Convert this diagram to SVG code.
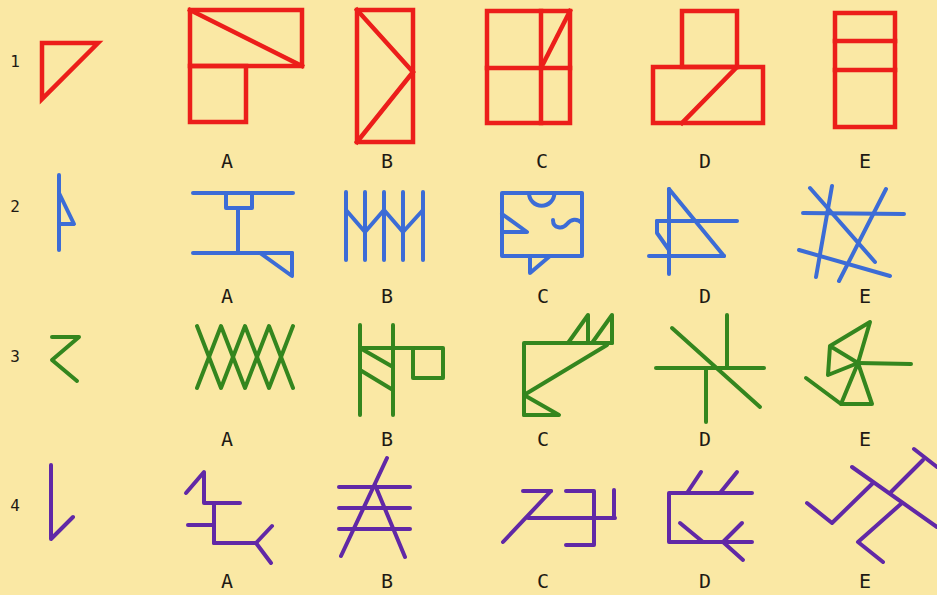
<svg xmlns="http://www.w3.org/2000/svg" width="937" height="595" viewBox="0 0 937 595">
<style>
.r{fill:none;stroke:#EC1E1A;stroke-width:4.5;stroke-linejoin:miter;stroke-linecap:square}
.b{fill:none;stroke:#3C6CD6;stroke-width:4;stroke-linecap:round;stroke-linejoin:round}
.g{fill:none;stroke:#34861E;stroke-width:4;stroke-linecap:round;stroke-linejoin:round}
.p{fill:none;stroke:#6128A6;stroke-width:4;stroke-linecap:round;stroke-linejoin:round}
.lab{font-family:"DejaVu Sans Mono","Liberation Mono",monospace;font-size:20px;fill:#1E1A14;text-anchor:middle}
.num{font-family:"DejaVu Sans Mono","Liberation Mono",monospace;font-size:16px;fill:#1E1A14;text-anchor:middle}
</style>
<rect width="937" height="595" fill="#FAE8A4"/>

<!-- Row 1 -->
<g id="r1-q"><text class="num" x="15" y="67">1</text><polygon class="r" points="42,43 98,43 42,99"/></g>
<g id="r1-A" class="r"><rect x="190" y="10" width="112" height="56"/><rect x="190" y="66" width="56" height="56"/><line x1="190" y1="10" x2="302" y2="66"/></g>
<g id="r1-B" class="r"><rect x="357" y="10" width="56" height="132"/><polyline points="357,10 413,72 357,142"/></g>
<g id="r1-C" class="r"><rect x="487" y="11" width="83" height="112"/><line x1="541" y1="11" x2="541" y2="123"/><line x1="487" y1="68" x2="570" y2="68"/><line x1="541" y1="68" x2="570" y2="11"/></g>
<g id="r1-D" class="r"><rect x="682" y="11" width="55" height="56"/><rect x="653" y="67" width="110" height="56"/><line x1="737" y1="67" x2="682" y2="123"/></g>
<g id="r1-E" class="r"><rect x="835" y="13" width="60" height="114"/><line x1="835" y1="41" x2="895" y2="41"/><line x1="835" y1="70" x2="895" y2="70"/></g>
<g id="r1-labels"><text class="lab" x="227" y="168">A</text><text class="lab" x="387" y="168">B</text><text class="lab" x="542" y="168">C</text><text class="lab" x="705" y="168">D</text><text class="lab" x="865" y="168">E</text></g>

<!-- Row 2 -->
<g id="r2-q"><text class="num" x="15" y="212">2</text><line class="b" x1="59" y1="175" x2="59" y2="250"/><polyline class="b" points="59,193 74,224 59,224"/></g>
<g id="r2-A" class="b"><line x1="193" y1="193" x2="293" y2="193"/><rect x="226" y="193" width="26" height="15"/><line x1="238" y1="208" x2="238" y2="253"/><line x1="193" y1="253" x2="292" y2="253"/><polyline points="260,253 292,276 292,253"/></g>
<g id="r2-B" class="b"><line x1="346" y1="192" x2="346" y2="260"/><line x1="365" y1="192" x2="365" y2="260"/><line x1="384" y1="192" x2="384" y2="260"/><line x1="403" y1="192" x2="403" y2="260"/><line x1="423" y1="192" x2="423" y2="260"/><polyline points="346,210 365,232 384,210 403,232 423,210"/></g>
<g id="r2-C" class="b"><rect x="502" y="193" width="80" height="63"/><path d="M529,193 A12.7,12.7 0 0 0 554.4,193"/><polyline points="502,214 527,232 502,232"/><polyline points="530,256 530,273 550,256"/><path d="M553,220 C553,229 563,229 567,224 S577,218 582,223"/></g>
<g id="r2-D" class="b"><line x1="669" y1="189" x2="669" y2="274"/><line x1="669" y1="189" x2="724" y2="256"/><line x1="649" y1="256" x2="724" y2="256"/><line x1="657" y1="221" x2="737" y2="221"/><polyline points="657,221 657,233 669,250"/></g>
<g id="r2-E" class="b"><line x1="803" y1="213" x2="904" y2="214"/><line x1="810" y1="188" x2="875" y2="262"/><line x1="832" y1="186" x2="816" y2="277"/><line x1="886" y1="189" x2="839" y2="281"/><line x1="799" y1="250" x2="890" y2="276"/></g>
<g id="r2-labels"><text class="lab" x="227" y="303">A</text><text class="lab" x="387" y="303">B</text><text class="lab" x="543" y="303">C</text><text class="lab" x="705" y="303">D</text><text class="lab" x="865" y="303">E</text></g>

<!-- Row 3 -->
<g id="r3-q"><text class="num" x="15" y="362">3</text><polyline class="g" points="52,337 79,337 52,360 77,381"/></g>
<g id="r3-A" class="g"><polyline points="197,326 221,388 245,326 269,388 293,326"/><polyline points="197,388 221,326 245,388 269,326 293,388"/></g>
<g id="r3-B" class="g"><line x1="360" y1="325" x2="360" y2="415"/><line x1="393" y1="325" x2="393" y2="415"/><rect x="413" y="348" width="30" height="30"/><line x1="360" y1="348" x2="413" y2="348"/><line x1="360" y1="348" x2="393" y2="367"/><line x1="360" y1="370" x2="393" y2="390"/></g>
<g id="r3-C" class="g"><polyline points="524,415 524,343 612,343"/><polyline points="568,343 588,315 588,343"/><polyline points="592,343 612,315 612,343"/><line x1="607" y1="345" x2="524" y2="395"/><polygon points="524,395 559,415 524,415"/></g>
<g id="r3-D" class="g"><line x1="656" y1="368" x2="764" y2="368"/><line x1="727" y1="315" x2="727" y2="367"/><line x1="706" y1="368" x2="706" y2="422"/><line x1="672" y1="328" x2="760" y2="407"/></g>
<g id="r3-E" class="g"><line x1="858" y1="363" x2="911" y2="364"/><polyline points="858,363 870,322 830,346 858,363 828,375 830,346"/><polygon points="858,363 841,404 872,404"/><line x1="806" y1="378" x2="841" y2="404"/></g>
<g id="r3-labels"><text class="lab" x="227" y="446">A</text><text class="lab" x="387" y="446">B</text><text class="lab" x="543" y="446">C</text><text class="lab" x="705" y="446">D</text><text class="lab" x="865" y="446">E</text></g>

<!-- Row 4 -->
<g id="r4-q"><text class="num" x="15" y="511">4</text><polyline class="p" points="51,465 51,539 73,517"/></g>
<g id="r4-A" class="p"><polyline points="186,493 204,472 204,503 240,503"/><line x1="214" y1="503" x2="214" y2="543"/><line x1="188" y1="525" x2="214" y2="525"/><line x1="214" y1="543" x2="256" y2="543"/><line x1="256" y1="543" x2="272" y2="526"/><line x1="256" y1="543" x2="271" y2="563"/></g>
<g id="r4-B" class="p"><line x1="339" y1="487" x2="410" y2="487"/><line x1="339" y1="508" x2="410" y2="508"/><line x1="339" y1="529" x2="410" y2="529"/><line x1="387" y1="458" x2="341" y2="556"/><line x1="375" y1="485" x2="405" y2="557"/></g>
<g id="r4-C" class="p"><line x1="523" y1="491" x2="551" y2="491"/><line x1="551" y1="491" x2="503" y2="542"/><line x1="528" y1="518" x2="615" y2="518"/><polyline points="566,491 594,491 594,545 566,545"/><line x1="614" y1="490" x2="614" y2="518"/></g>
<g id="r4-D" class="p"><polyline points="752,493 669,493 669,542 752,542"/><line x1="687" y1="493" x2="701" y2="472"/><line x1="720" y1="493" x2="737" y2="472"/><line x1="680" y1="523" x2="703" y2="542"/><polyline points="742,523 723,542 743,560"/></g>
<g id="r4-E" class="p"><line x1="852" y1="467" x2="937" y2="527"/><polyline points="807,503 832,523 873,483"/><line x1="890" y1="493" x2="923" y2="460"/><line x1="914" y1="449" x2="937" y2="467"/><polyline points="902,503 858,542 883,562"/></g>
<g id="r4-labels"><text class="lab" x="227" y="588">A</text><text class="lab" x="387" y="588">B</text><text class="lab" x="543" y="588">C</text><text class="lab" x="705" y="588">D</text><text class="lab" x="865" y="588">E</text></g>
<g id="connectors"/>
</svg>
